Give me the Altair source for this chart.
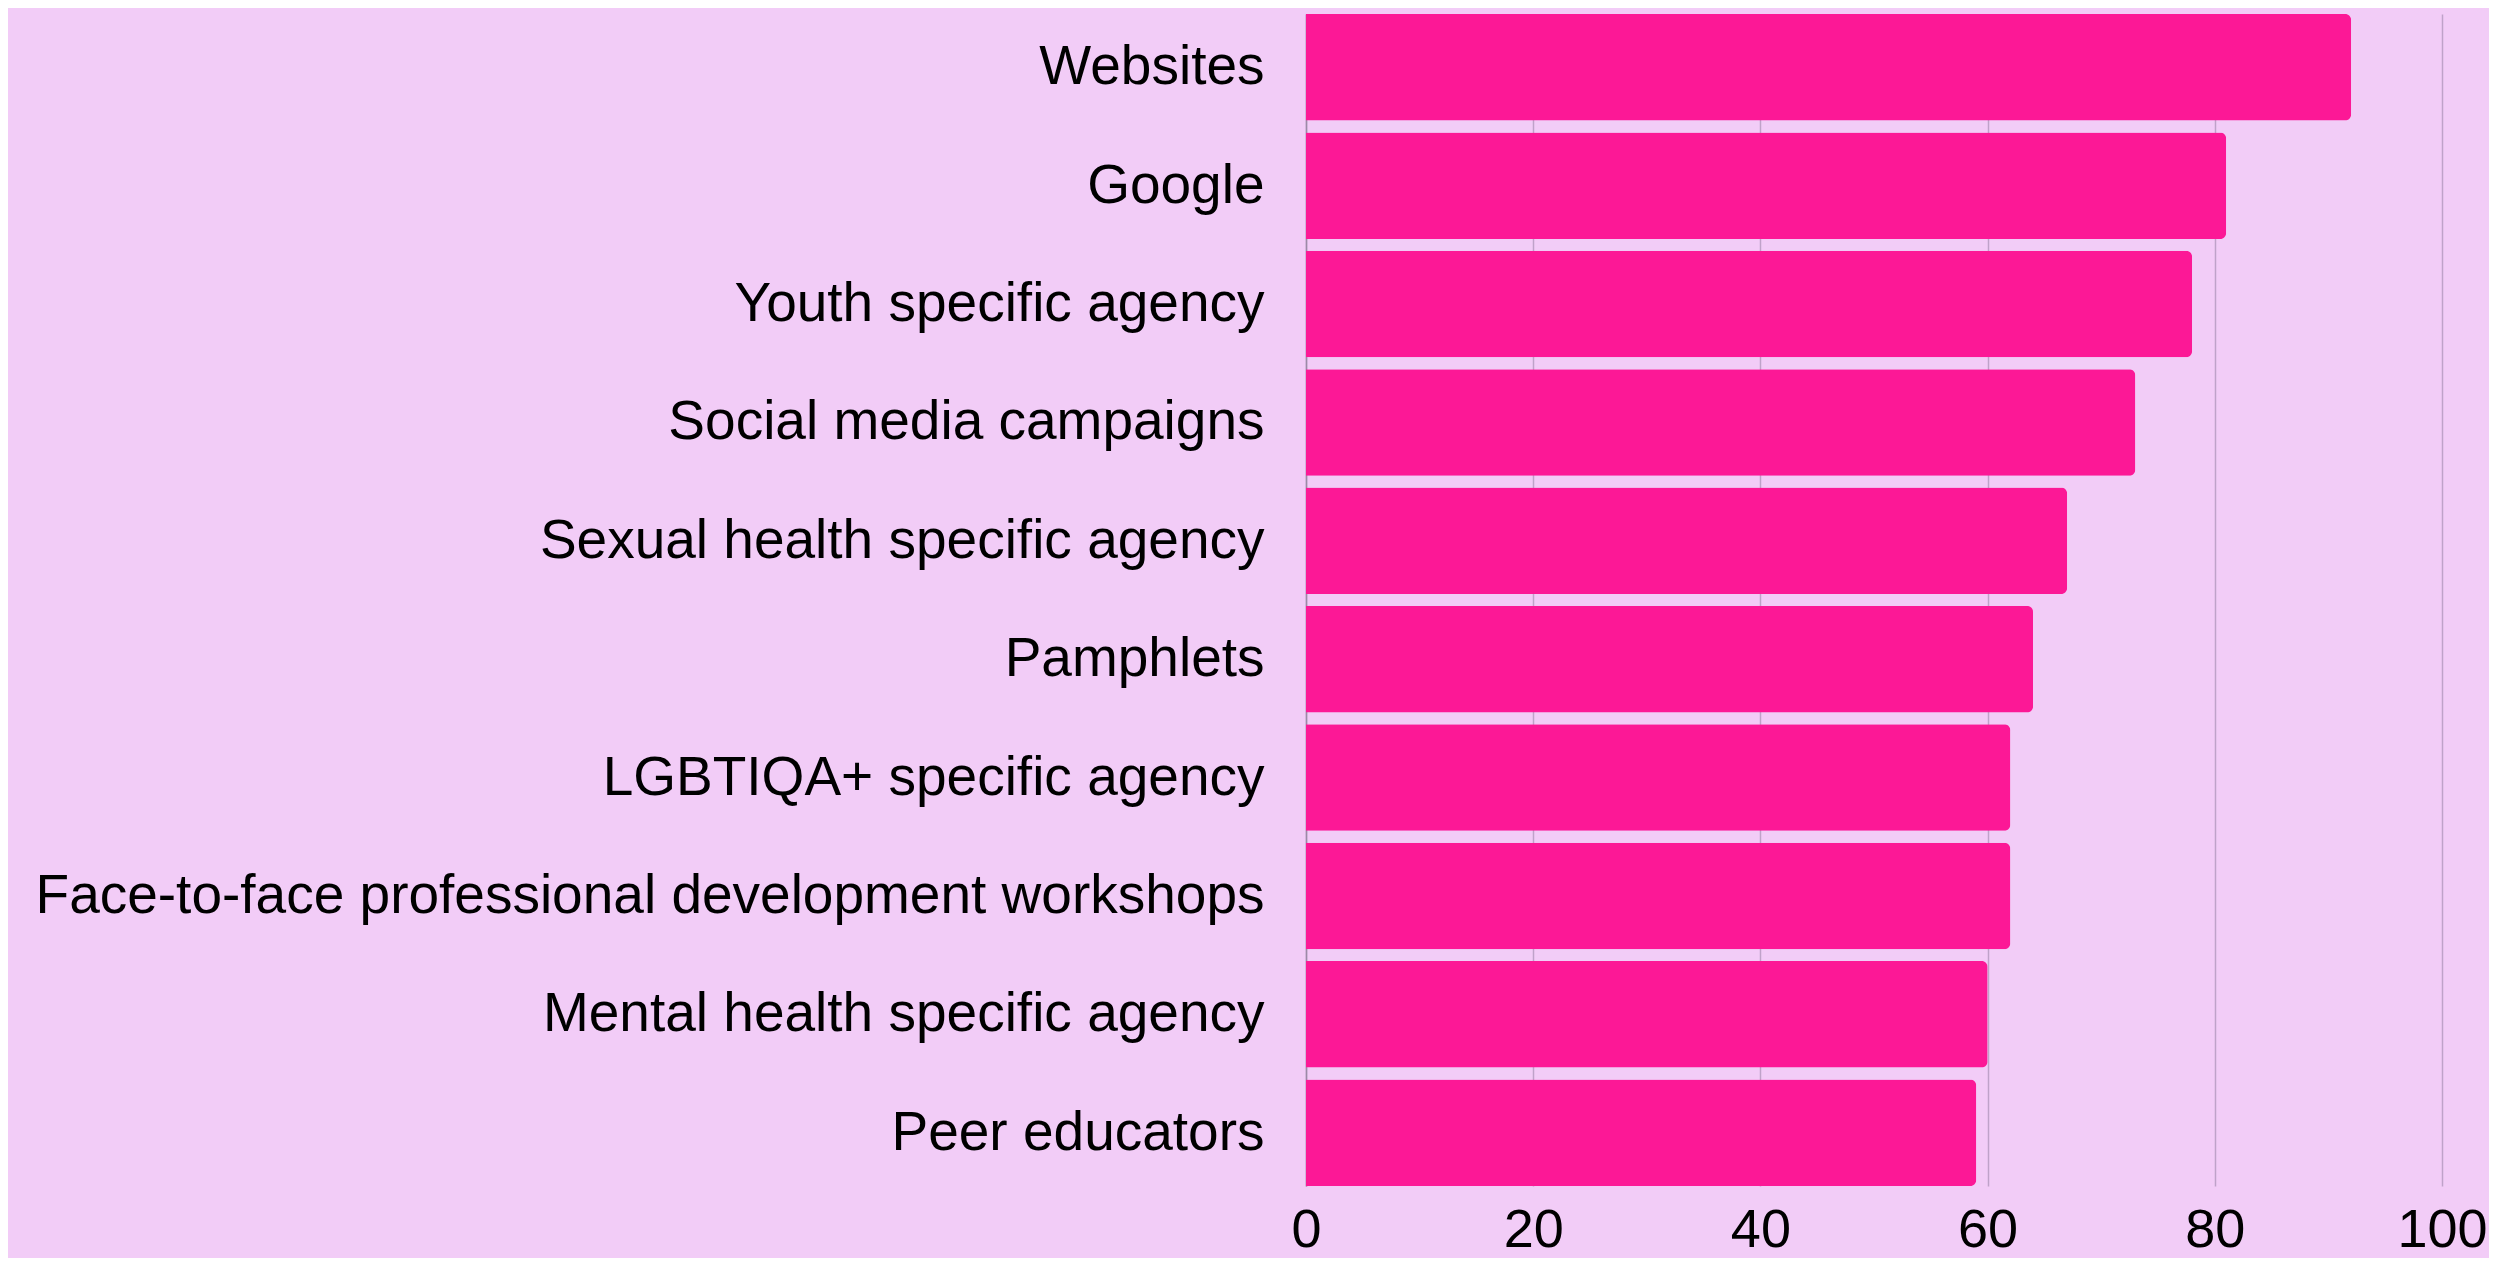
import altair as alt
import pandas as pd

categories = [
    "Websites",
    "Google",
    "Youth specific agency",
    "Social media campaigns",
    "Sexual health specific agency",
    "Pamphlets",
    "LGBTIQA+ specific agency",
    "Face-to-face professional development workshops",
    "Mental health specific agency",
    "Peer educators",
]
values = [92, 81, 78, 73, 67, 64, 62, 62, 60, 59]
x_ticks = [0, 20, 40, 60, 80, 100]

df = pd.DataFrame({"category": categories, "value": values})

BG = "#F2CCF7"
BAR = "#FC1896"
GRID = "#BFA2C9"

chart = (
    alt.Chart(df)
    .mark_bar(color=BAR, cornerRadiusEnd=6)
    .encode(
        x=alt.X(
            "value:Q",
            scale=alt.Scale(domain=[0, 100], nice=False),
            axis=alt.Axis(
                values=x_ticks,
                title=None,
                grid=True,
                gridColor=GRID,
                gridWidth=1.5,
                domain=False,
                ticks=False,
                labelFont="Liberation Sans",
                labelFontSize=54,
                labelColor="#000000",
                labelPadding=17,
                labelFlush=False,
            ),
        ),
        y=alt.Y(
            "category:N",
            sort=categories,
            scale=alt.Scale(paddingInner=0.1, paddingOuter=0),
            axis=alt.Axis(
                title=None,
                domain=True,
                domainColor="#9C8AA6",
                domainWidth=1.5,
                ticks=False,
                labelFont="Liberation Sans",
                labelFontSize=55,
                labelColor="#000000",
                labelPadding=42,
                labelLimit=2000,
            ),
        ),
    )
    .properties(
        width=1136,
        height=1172,
        background=BG,
        autosize=alt.AutoSizeParams(type="none"),
        padding={"left": 1298, "top": 6, "right": 47, "bottom": 72},
    )
    .configure_view(stroke=None)
)

chart.save("out.html", embed_options={"renderer": "svg", "actions": False})
